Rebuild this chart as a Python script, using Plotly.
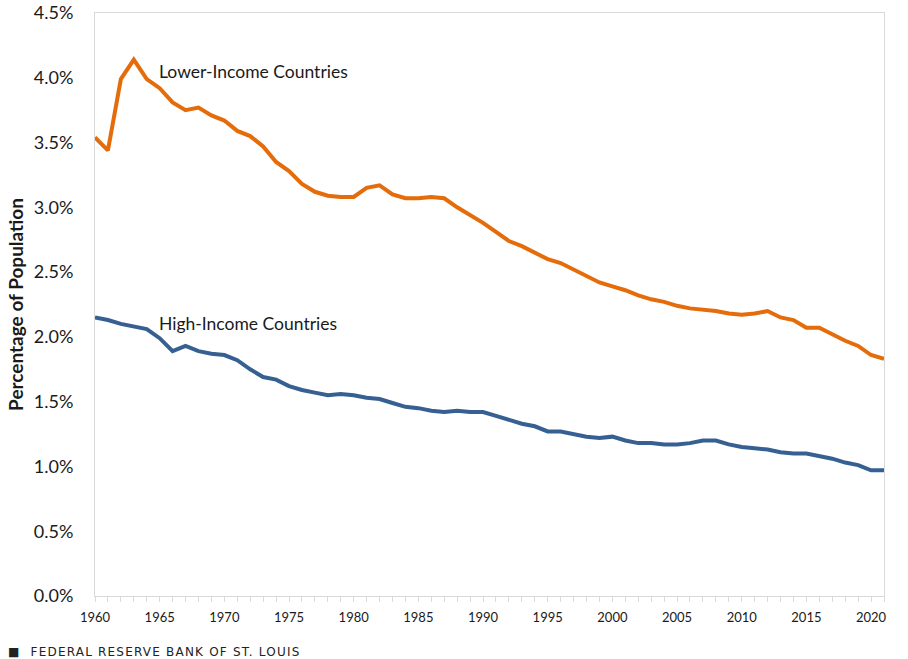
import plotly.graph_objects as go

years = list(range(1960, 2022))

lower_income = [3.54, 3.44, 3.99, 4.14, 3.99, 3.92, 3.81, 3.75, 3.77, 3.71,
                3.67, 3.59, 3.55, 3.47, 3.35, 3.28, 3.18, 3.12, 3.09, 3.08,
                3.08, 3.15, 3.17, 3.10, 3.07, 3.07, 3.08, 3.07, 3.00, 2.94,
                2.88, 2.81, 2.74, 2.70, 2.65, 2.60, 2.57, 2.52, 2.47, 2.42,
                2.39, 2.36, 2.32, 2.29, 2.27, 2.24, 2.22, 2.21, 2.20, 2.18,
                2.17, 2.18, 2.20, 2.15, 2.13, 2.07, 2.07, 2.02, 1.97, 1.93,
                1.86, 1.83]

high_income = [2.15, 2.13, 2.10, 2.08, 2.06, 1.99, 1.89, 1.93, 1.89, 1.87,
               1.86, 1.82, 1.75, 1.69, 1.67, 1.62, 1.59, 1.57, 1.55, 1.56,
               1.55, 1.53, 1.52, 1.49, 1.46, 1.45, 1.43, 1.42, 1.43, 1.42,
               1.42, 1.39, 1.36, 1.33, 1.31, 1.27, 1.27, 1.25, 1.23, 1.22,
               1.23, 1.20, 1.18, 1.18, 1.17, 1.17, 1.18, 1.20, 1.20, 1.17,
               1.15, 1.14, 1.13, 1.11, 1.10, 1.10, 1.08, 1.06, 1.03, 1.01,
               0.97, 0.97]

y_ticks = [0, 0.5, 1.0, 1.5, 2.0, 2.5, 3.0, 3.5, 4.0, 4.5]
y_labels = ["0.0%", "0.5%", "1.0%", "1.5%", "2.0%", "2.5%", "3.0%", "3.5%", "4.0%", "4.5%"]

ORANGE = "#E46C0A"
BLUE = "#376092"
GRID = "#D9D9D9"
FONT = "Lato"
TXT = "#1a1a1a"

fig = go.Figure()
fig.add_trace(go.Scatter(x=years, y=lower_income, mode="lines",
                         line=dict(color=ORANGE, width=4), name="Lower-Income Countries",
                         hoverinfo="skip"))
fig.add_trace(go.Scatter(x=years, y=high_income, mode="lines",
                         line=dict(color=BLUE, width=4), name="High-Income Countries",
                         hoverinfo="skip"))

fig.add_annotation(x=1964.8, y=4.045, xref="x", yref="y", text="Lower-Income Countries",
                   showarrow=False, xanchor="left", yanchor="middle",
                   font=dict(family=FONT, size=17.5, color=TXT))
fig.add_annotation(x=1964.8, y=2.10, xref="x", yref="y", text="High-Income Countries",
                   showarrow=False, xanchor="left", yanchor="middle",
                   font=dict(family=FONT, size=17.5, color=TXT))

fig.add_annotation(x=-0.1128, y=-0.0952, xref="paper", yref="paper", yanchor="middle",
                   xanchor="left", showarrow=False,
                   text="■  FEDERAL RESERVE BANK OF ST. LOUIS",
                   font=dict(family="DejaVu Sans", size=12, color="#222222"))

fig.update_layout(
    width=908, height=659,
    margin=dict(l=95, r=24, t=13, b=63, autoexpand=False),
    paper_bgcolor="white", plot_bgcolor="white",
    showlegend=False,
    font=dict(family=FONT, color=TXT),
)

fig.update_xaxes(
    range=[1960, 2021], tickmode="linear", tick0=1960, dtick=5,
    showgrid=False, zeroline=False, automargin=False,
    showline=True, mirror=True, linecolor=GRID, linewidth=1,
    ticks="outside", ticklen=5, tickcolor=GRID, ticklabelstandoff=4,
    minor=dict(dtick=1, ticks="outside", ticklen=5, tickcolor=GRID, showgrid=False),
    tickfont=dict(family=FONT, size=13, color=TXT),
)

fig.update_yaxes(
    range=[0, 4.5], tickmode="array", tickvals=y_ticks, ticktext=y_labels,
    showgrid=False, zeroline=False, automargin=False,
    showline=True, mirror=True, linecolor=GRID, linewidth=1,
    ticks="", ticklabelstandoff=17,
    tickfont=dict(family=FONT, size=18, color=TXT),
    title=dict(text="<b>Percentage of Population</b>", standoff=5,
               font=dict(family=FONT, size=19, color=TXT)),
)

post = """
document.body.style.margin='0px';
document.querySelectorAll('text.annotation-text').forEach(function(t){
  if (t.textContent.indexOf('FEDERAL') >= 0) {
    var bb = t.getBBox();
    t.setAttribute('text-anchor', 'start');
    t.setAttribute('x', bb.x);
    t.style.letterSpacing = '1.2px';
  }
});
"""

fig.write_html("out.html", config={"displayModeBar": False}, post_script=post)
